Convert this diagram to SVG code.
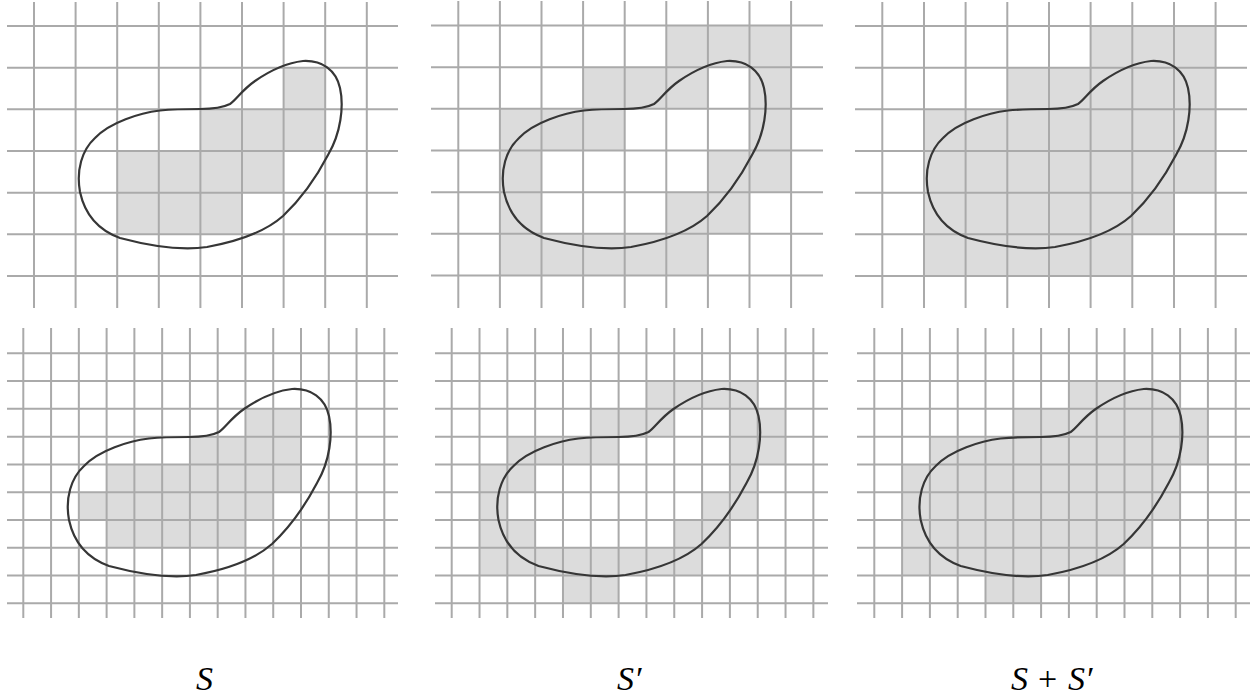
<svg xmlns="http://www.w3.org/2000/svg" width="1253" height="698" viewBox="0 0 1253 698">
<style>
.cell{fill:#dcdcdc}
.grid{fill:none;stroke:#aaaaaa;stroke-width:2}
.blob{fill:none;stroke:#363636;stroke-width:2.2}
</style>
<defs>
<path id="bean" d="M 200,109 C 212,109 222,108 230,104 C 236,100 242,90 255,81 C 268,72 285,63 303,61 C 322,60 336,70 340,88 C 344,106 341,133 328,155 C 316,178 301,199 283,216 C 265,232 240,241 207,247 C 180,251 150,246 120,238 C 98,230 85,215 80,192 C 76,170 82,150 95,138 C 110,122 140,113 160,110.5 C 175,109 190,109 200,109 Z"/>
</defs>

<g id="panel-top-S">
<g transform="translate(34,26) scale(41.6,41.667)" class="cell">
<rect x="6" y="1" width="1" height="1"/>
<rect x="4" y="2" width="3" height="1"/>
<rect x="2" y="3" width="4" height="1"/>
<rect x="2" y="4" width="3" height="1"/>
</g>
<path class="grid" d="M34,2V308M75.6,2V308M117.2,2V308M158.8,2V308M200.4,2V308M242,2V308M283.6,2V308M325.2,2V308M366.8,2V308M7,26H398M7,67.67H398M7,109.33H398M7,151H398M7,192.67H398M7,234.33H398M7,276H398"/>
<use href="#bean" class="blob"/>
</g>

<g id="panel-top-Sprime">
<g transform="translate(458.3,25.5) scale(41.6,41.667)" class="cell">
<rect x="5" y="0" width="3" height="1"/>
<rect x="3" y="1" width="3" height="1"/>
<rect x="7" y="1" width="1" height="1"/>
<rect x="1" y="2" width="3" height="1"/>
<rect x="7" y="2" width="1" height="1"/>
<rect x="1" y="3" width="1" height="1"/>
<rect x="6" y="3" width="2" height="1"/>
<rect x="1" y="4" width="1" height="1"/>
<rect x="5" y="4" width="2" height="1"/>
<rect x="1" y="5" width="5" height="1"/>
</g>
<path class="grid" d="M458.3,1V308M499.9,1V308M541.5,1V308M583.1,1V308M624.7,1V308M666.3,1V308M707.9,1V308M749.5,1V308M791.1,1V308M431,25.5H823M431,67.17H823M431,108.83H823M431,150.5H823M431,192.17H823M431,233.83H823M431,275.5H823"/>
<use href="#bean" class="blob" transform="translate(424,0)"/>
</g>

<g id="panel-top-sum">
<g transform="translate(882.3,26) scale(41.667,41.667)" class="cell">
<rect x="5" y="0" width="3" height="1"/>
<rect x="3" y="1" width="5" height="1"/>
<rect x="1" y="2" width="7" height="1"/>
<rect x="1" y="3" width="7" height="1"/>
<rect x="1" y="4" width="6" height="1"/>
<rect x="1" y="5" width="5" height="1"/>
</g>
<path class="grid" d="M882.3,2V308M924,2V308M965.6,2V308M1007.3,2V308M1049,2V308M1090.6,2V308M1132.3,2V308M1174,2V308M1215.6,2V308M855,26H1247M855,67.67H1247M855,109.33H1247M855,151H1247M855,192.67H1247M855,234.33H1247M855,276H1247"/>
<use href="#bean" class="blob" transform="translate(848,0)"/>
</g>

<g id="panel-bottom-S">
<g transform="translate(23.3,353.3) scale(27.77,27.78)" class="cell">
<rect x="8" y="2" width="2" height="1"/>
<rect x="6" y="3" width="4" height="1"/>
<rect x="3" y="4" width="7" height="1"/>
<rect x="2" y="5" width="7" height="1"/>
<rect x="3" y="6" width="5" height="1"/>
</g>
<path class="grid" d="M23.3,328V618M51.07,328V618M78.84,328V618M106.61,328V618M134.38,328V618M162.15,328V618M189.92,328V618M217.69,328V618M245.46,328V618M273.23,328V618M301,328V618M328.77,328V618M356.54,328V618M384.31,328V618M7,353.3H398M7,381.08H398M7,408.86H398M7,436.64H398M7,464.42H398M7,492.2H398M7,519.98H398M7,547.76H398M7,575.54H398M7,603.32H398"/>
<use href="#bean" class="blob" transform="translate(-11,328)"/>
</g>

<g id="panel-bottom-Sprime">
<g transform="translate(451.7,353.3) scale(27.82,27.78)" class="cell">
<rect x="7" y="1" width="4" height="1"/>
<rect x="5" y="2" width="3" height="1"/>
<rect x="10" y="2" width="2" height="1"/>
<rect x="2" y="3" width="4" height="1"/>
<rect x="10" y="3" width="2" height="1"/>
<rect x="1" y="4" width="2" height="1"/>
<rect x="10" y="4" width="1" height="1"/>
<rect x="1" y="5" width="1" height="1"/>
<rect x="9" y="5" width="2" height="1"/>
<rect x="1" y="6" width="2" height="1"/>
<rect x="8" y="6" width="2" height="1"/>
<rect x="1" y="7" width="8" height="1"/>
<rect x="4" y="8" width="2" height="1"/>
</g>
<path class="grid" d="M451.7,328V618M479.52,328V618M507.34,328V618M535.16,328V618M562.98,328V618M590.8,328V618M618.62,328V618M646.44,328V618M674.26,328V618M702.08,328V618M729.9,328V618M757.72,328V618M785.54,328V618M813.36,328V618M435,353.3H828M435,381.08H828M435,408.86H828M435,436.64H828M435,464.42H828M435,492.2H828M435,519.98H828M435,547.76H828M435,575.54H828M435,603.32H828"/>
<use href="#bean" class="blob" transform="translate(418.5,328)"/>
</g>

<g id="panel-bottom-sum">
<g transform="translate(874.3,353.3) scale(27.8,27.78)" class="cell">
<rect x="7" y="1" width="4" height="1"/>
<rect x="5" y="2" width="7" height="1"/>
<rect x="2" y="3" width="10" height="1"/>
<rect x="1" y="4" width="10" height="1"/>
<rect x="1" y="5" width="10" height="1"/>
<rect x="1" y="6" width="9" height="1"/>
<rect x="1" y="7" width="8" height="1"/>
<rect x="4" y="8" width="2" height="1"/>
</g>
<path class="grid" d="M874.3,328V618M902.1,328V618M929.9,328V618M957.7,328V618M985.5,328V618M1013.3,328V618M1041.1,328V618M1068.9,328V618M1096.7,328V618M1124.5,328V618M1152.3,328V618M1180.1,328V618M1207.9,328V618M1235.7,328V618M857,353.3H1250M857,381.08H1250M857,408.86H1250M857,436.64H1250M857,464.42H1250M857,492.2H1250M857,519.98H1250M857,547.76H1250M857,575.54H1250M857,603.32H1250"/>
<use href="#bean" class="blob" transform="translate(840.7,328)"/>
</g>

<g id="labels" font-family="'Liberation Serif', 'Times New Roman', serif" font-size="34" font-style="italic" fill="#000">
<text x="196" y="690">S</text>
<text x="617" y="690">S′</text>
<text x="1011" y="690">S<tspan font-style="normal" x="1038">+</tspan><tspan x="1068">S′</tspan></text>
</g>
</svg>
